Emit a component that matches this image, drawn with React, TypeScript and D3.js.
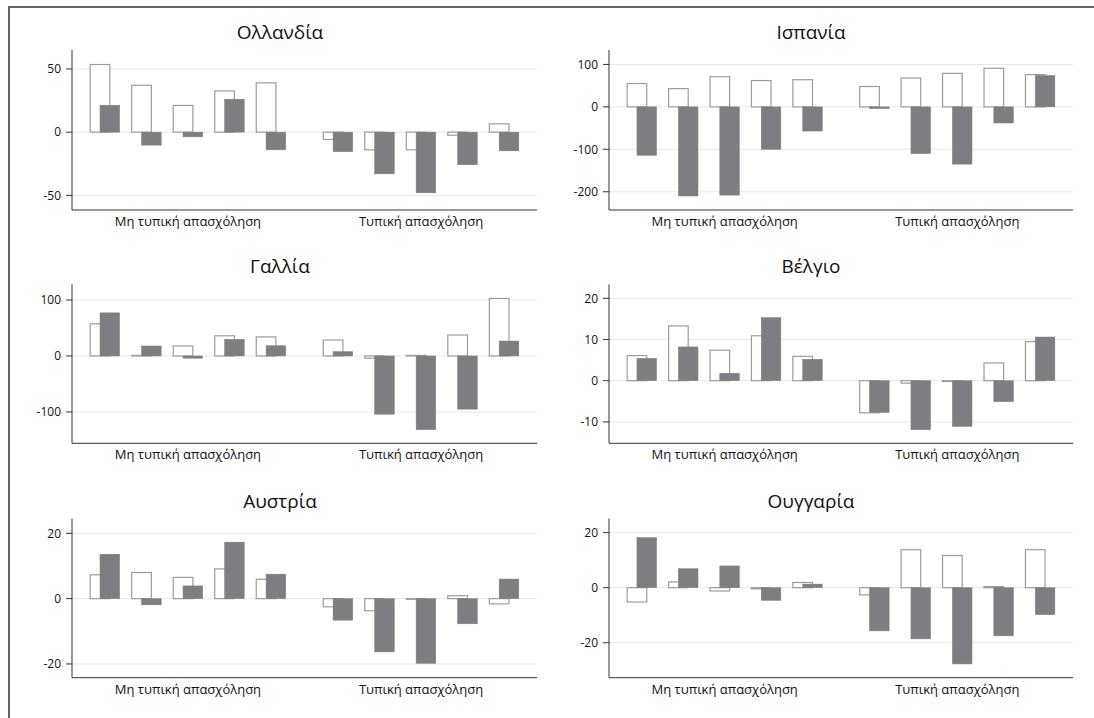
import React from "react";
import * as d3 from "d3";

const groups = ["Μη τυπική απασχόληση", "Τυπική απασχόληση"];
const items = ["1", "2", "3", "4", "5"];
const countries = ["Ολλανδία", "Ισπανία", "Γαλλία", "Βέλγιο", "Αυστρία", "Ουγγαρία"];

const nlWhite = [53.5, 37.1, 21.1, 32.6, 39, -5.8, -14, -14, -2.4, 6.6];
const nlGray = [21.3, -10.3, -3.7, 26.1, -14, -15.5, -33, -48, -25.8, -14.8];
const esWhite = [55, 43, 71, 62, 64, 48, 68, 79, 91, 76];
const esGray = [-114, -210, -208, -100, -57, -4, -110, -135, -38, 74];
const frWhite = [57.5, 1, 17.8, 36, 34, 28.5, -4, 1, 37.4, 102.7];
const frGray = [77, 17.8, -4, 29.7, 18.4, 7.7, -104, -131.7, -95, 26.7];
const beWhite = [6.1, 13.3, 7.4, 10.9, 5.9, -7.8, -0.6, -0.2, 4.3, 9.5];
const beGray = [5.4, 8.2, 1.8, 15.3, 5.2, -7.7, -11.9, -11.1, -5.1, 10.6];
const atWhite = [7.3, 8.0, 6.5, 9.1, 5.9, -2.5, -3.7, -0.2, 0.9, -1.6];
const atGray = [13.6, -1.9, 3.9, 17.3, 7.5, -6.6, -16.3, -19.8, -7.7, 6.0];
const huWhite = [-5.2, 2.1, -1.2, -0.4, 1.9, -2.6, 13.8, 11.7, 0.4, 13.8];
const huGray = [18.2, 6.9, 7.9, -4.6, 1.3, -15.7, -18.6, -27.7, -17.5, -9.8];

const whiteSeries = [nlWhite, esWhite, frWhite, beWhite, atWhite, huWhite];
const graySeries = [nlGray, esGray, frGray, beGray, atGray, huGray];
const domains: [number, number][] = [
  [-61.6, 65],
  [-243, 134],
  [-156, 128],
  [-15.2, 23.4],
  [-24.2, 24.5],
  [-32.7, 25.1],
];
const tickValues = [
  [-50, 0, 50],
  [-200, -100, 0, 100],
  [-100, 0, 100],
  [-10, 0, 10, 20],
  [-20, 0, 20],
  [-20, 0, 20],
];

const W = 1094;
const H = 718;
const colLeft = [72, 609];
const colRight = [537, 1073];
const colTitleX = [280, 811];
const rowTop = [50, 284.3, 518.6];
const rowBottom = [210, 443.3, 677.7];
const FONT = "'Open Sans', 'Noto Sans', sans-serif";
const GRAY = "#7e7e82";

function Panel({ idx }: { idx: number }) {
  const col = idx % 2;
  const row = Math.floor(idx / 2);
  const x0 = colLeft[col];
  const x1 = colRight[col];
  const y0 = rowTop[row];
  const y1 = rowBottom[row];
  const y = d3.scaleLinear().domain(domains[idx]).range([y1, y0]);
  const gx = d3.scaleBand<string>().domain(groups).range([x0, x1]).paddingInner(0.161).paddingOuter(0.078);
  const ix = d3.scaleBand<string>().domain(items).range([0, gx.bandwidth()]).paddingInner(0.29).paddingOuter(0);
  const bw = ix.bandwidth() / 1.5;
  const wv = whiteSeries[idx];
  const gv = graySeries[idx];
  const bars: { x: number; v: number; kind: string }[] = [];
  groups.forEach((g, gi) => {
    items.forEach((it, ii) => {
      const k = gi * items.length + ii;
      const bx = (gx(g) ?? 0) + (ix(it) ?? 0);
      bars.push({ x: bx, v: wv[k], kind: "w" });
      bars.push({ x: bx + bw / 2, v: gv[k], kind: "g" });
    });
  });
  return (
    <g>
      <text x={colTitleX[col]} y={y0 - 11} textAnchor="middle" fontSize={19} fontFamily={FONT} fill="#111">
        {countries[idx]}
      </text>
      {tickValues[idx].map((t) => (
        <g key={t}>
          <line x1={x0} x2={x1} y1={y(t)} y2={y(t)} stroke="#e8e8e8" strokeWidth={1} />
          <line x1={x0 - 6} x2={x0} y1={y(t)} y2={y(t)} stroke="#333" strokeWidth={1} />
          <text x={x0 - 11} y={y(t)} dy="0.35em" textAnchor="end" fontSize={12} fontFamily={FONT} fill="#111">
            {t}
          </text>
        </g>
      ))}
      {bars.map((b, i) => {
        const top = Math.min(y(b.v), y(0));
        const h = Math.abs(y(b.v) - y(0));
        return b.kind === "w" ? (
          <rect key={i} x={b.x} y={top} width={bw} height={h} fill="#fff" stroke="#9c9c9c" strokeWidth={1.2} />
        ) : (
          <rect key={i} x={b.x} y={top} width={bw} height={h} fill={GRAY} stroke={GRAY} strokeWidth={0.5} />
        );
      })}
      <line x1={x0} x2={x0} y1={y0} y2={y1} stroke="#333" strokeWidth={1} />
      <line x1={x0} x2={x1} y1={y1} y2={y1} stroke="#333" strokeWidth={1} />
      {groups.map((g) => (
        <text key={g} x={(gx(g) ?? 0) + gx.bandwidth() / 2} y={y1 + 16} textAnchor="middle" fontSize={13} fontFamily={FONT} fill="#111">
          {g}
        </text>
      ))}
    </g>
  );
}

export default function App() {
  return (
    <svg width={W} height={H} style={{ position: "absolute", left: 0, top: 0, background: "#fff" }}>
      <rect x={0} y={0} width={W} height={H} fill="#fff" />
      <rect x={9} y={7} width={W + 20} height={H + 20} fill="none" stroke="#555" strokeWidth={1.8} />
      {countries.map((c, i) => (
        <Panel key={c} idx={i} />
      ))}
    </svg>
  );
}
